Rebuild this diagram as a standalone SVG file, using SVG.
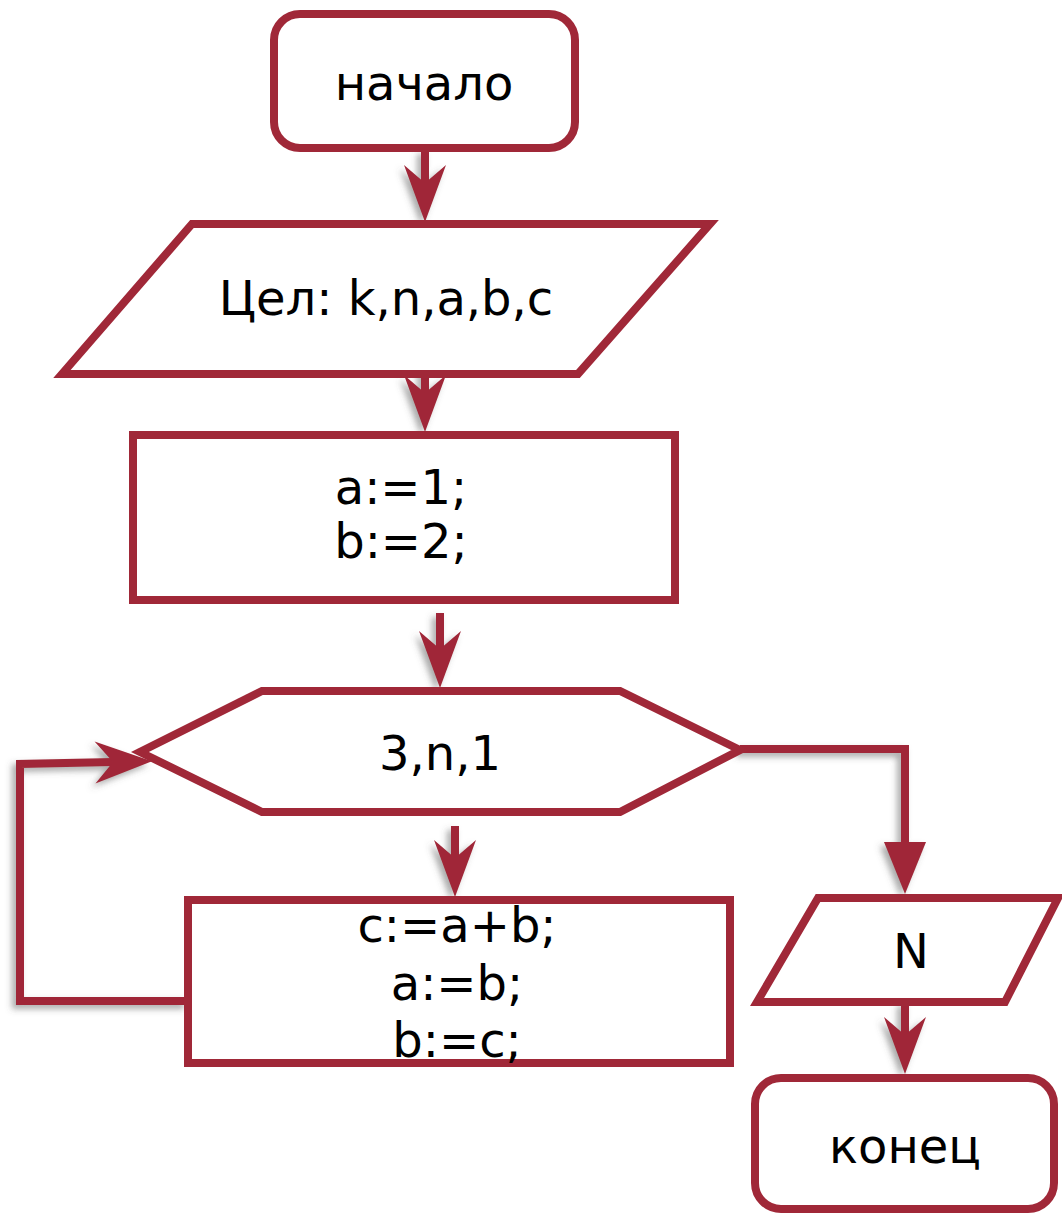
<svg xmlns="http://www.w3.org/2000/svg" width="1062" height="1215" viewBox="0 0 1062 1215">
  <defs>
    <style>
      .shape { fill: #ffffff; stroke: #a02838; stroke-width: 8; stroke-linejoin: miter; }
      .wire { fill: none; stroke: #a02838; stroke-width: 8; stroke-linejoin: miter; }
      .label { font-family: "DejaVu Sans", Verdana, sans-serif; font-size: 48px; fill: #000000; text-anchor: middle; }
    </style>
    <filter id="shadow" x="-50%" y="-50%" width="200%" height="200%">
      <feDropShadow dx="-4" dy="4" stdDeviation="3" flood-color="#555555" flood-opacity="0.5"/>
    </filter>
    <!-- concave arrowhead; reference point sits at the notch so the line hides under it -->
    <marker id="stealth" markerUnits="userSpaceOnUse" orient="auto" markerWidth="60" markerHeight="44" viewBox="-58 -22 60 44" refX="-39" refY="0">
      <path d="M0,0 L-57,-21 L-39,0 L-57,21 Z" fill="#a02838"/>
    </marker>
    <!-- plain triangular arrowhead; reference point at the base -->
    <marker id="triangle" markerUnits="userSpaceOnUse" orient="auto" markerWidth="56" markerHeight="46" viewBox="-54 -23 56 46" refX="-51" refY="0">
      <path d="M0,0 L-52,-21 L-52,21 Z" fill="#a02838"/>
    </marker>
  </defs>

  <rect width="1062" height="1215" fill="#ffffff"/>

  <!-- flow lines -->
  <g id="connectors" filter="url(#shadow)">
    <path class="wire" d="M425,150 L425,183" marker-end="url(#stealth)"/>
    <path class="wire" d="M425,359 L425,393" marker-end="url(#stealth)"/>
    <path class="wire" d="M440,613 L440,649" marker-end="url(#stealth)"/>
    <path class="wire" d="M455,826 L455,858" marker-end="url(#stealth)"/>
    <path class="wire" d="M188,1001 L20,1001 L20,764 L113,762" marker-end="url(#stealth)"/>
    <path class="wire" d="M740,749 L905,749 L905,843" marker-end="url(#triangle)"/>
    <path class="wire" d="M905,1002 L905,1035" marker-end="url(#stealth)"/>
  </g>

  <g id="start">
    <rect class="shape" x="274" y="14" width="301" height="134" rx="26" ry="26"/>
    <text class="label" x="424" y="100">начало</text>
  </g>

  <g id="declare">
    <polygon class="shape" points="192,224 710,224 578,374 62,374"/>
    <text class="label" x="386" y="315">Цел: k,n,a,b,c</text>
  </g>

  <g id="init">
    <rect class="shape" x="133" y="435" width="542" height="165"/>
    <text class="label" x="401" y="504">a:=1;</text>
    <text class="label" x="401" y="558">b:=2;</text>
  </g>

  <g id="loop">
    <polygon class="shape" points="262,691 620,691 740,750 620,812 262,812 140,752"/>
    <text class="label" x="440" y="770">3,n,1</text>
  </g>

  <g id="body">
    <rect class="shape" x="188" y="900" width="542" height="163"/>
    <text class="label" x="457" y="942">c:=a+b;</text>
    <text class="label" x="457" y="1000">a:=b;</text>
    <text class="label" x="457" y="1057">b:=c;</text>
  </g>

  <g id="output">
    <polygon class="shape" points="818,898 1058,898 1005,1002 757,1002"/>
    <text class="label" x="911" y="968">N</text>
  </g>

  <g id="end">
    <rect class="shape" x="755" y="1078" width="299" height="131" rx="26" ry="26"/>
    <text class="label" x="905" y="1163">конец</text>
  </g>
</svg>
